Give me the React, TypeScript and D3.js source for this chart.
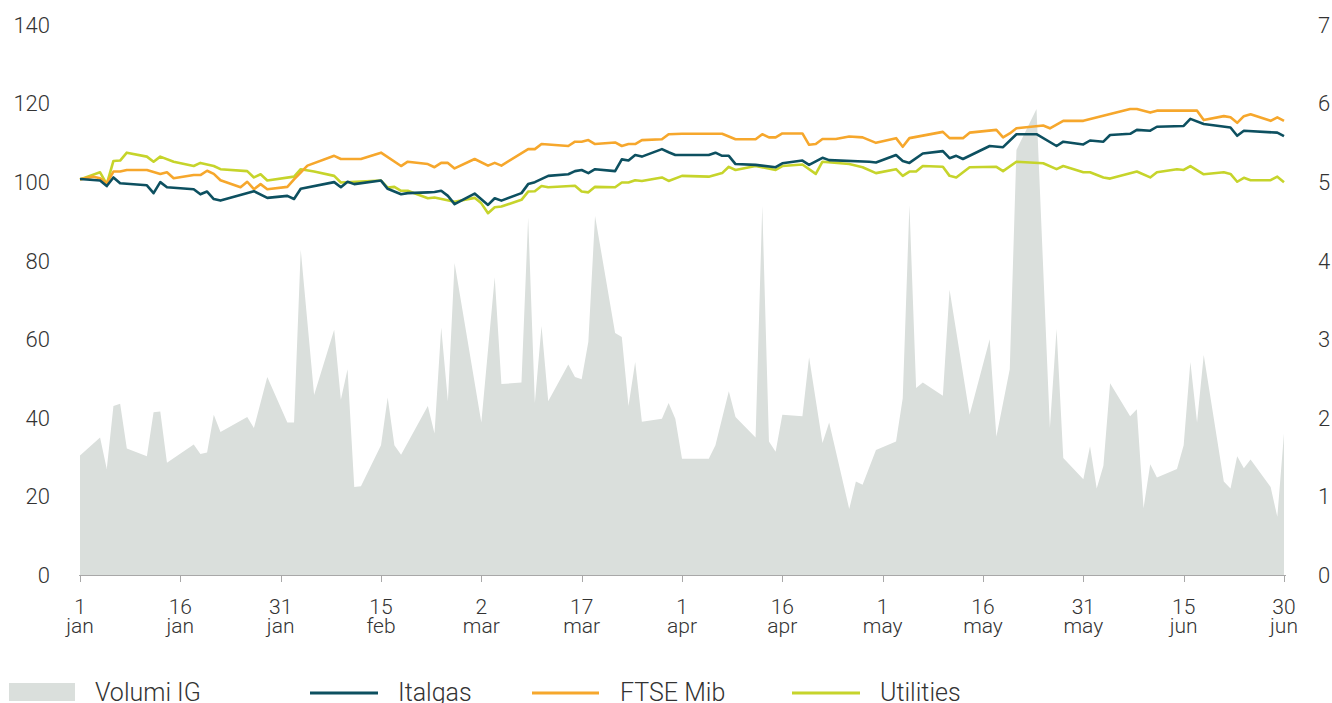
import React, { useEffect, useRef } from 'react';
import * as d3 from 'd3';

// days are counted from 1 jan; lines are rebased to 100, volumes in millions (right axis)
const volumeDays = [0, 3, 4, 5, 6, 7, 10, 11, 12, 13, 17, 18, 19, 20, 21, 25, 26, 28, 31, 32, 33, 35, 38, 39, 40, 41, 42, 45, 46, 47, 48, 52, 53, 54, 55, 56, 60, 62, 63, 66, 67, 68, 69, 70, 73, 74, 75, 76, 77, 80, 81, 82, 83, 84, 87, 88, 89, 90, 94, 95, 97, 98, 101, 102, 103, 104, 105, 108, 109, 111, 112, 115, 116, 117, 119, 122, 123, 124, 125, 126, 129, 130, 133, 136, 137, 139, 140, 143, 145, 146, 147, 150, 151, 152, 153, 154, 157, 158, 159, 160, 161, 164, 165, 166, 167, 168, 171, 172, 173, 174, 175, 178, 179, 180];
const volumeValues = [1.52, 1.75, 1.35, 2.15, 2.18, 1.61, 1.51, 2.07, 2.08, 1.43, 1.66, 1.54, 1.56, 2.04, 1.82, 2.01, 1.87, 2.52, 1.94, 1.94, 4.14, 2.29, 3.12, 2.23, 2.62, 1.12, 1.13, 1.65, 2.26, 1.65, 1.53, 2.15, 1.8, 3.15, 2.21, 3.97, 1.94, 3.79, 2.43, 2.45, 4.55, 2.19, 3.17, 2.21, 2.68, 2.52, 2.49, 2.97, 4.57, 3.08, 3.03, 2.15, 2.71, 1.95, 1.99, 2.19, 1.99, 1.48, 1.48, 1.65, 2.34, 2.01, 1.75, 4.7, 1.7, 1.57, 2.04, 2.02, 2.77, 1.68, 1.94, 0.84, 1.19, 1.15, 1.59, 1.7, 2.25, 4.71, 2.38, 2.45, 2.28, 3.63, 2.04, 3.0, 1.76, 2.62, 5.41, 5.93, 1.87, 3.13, 1.49, 1.22, 1.64, 1.1, 1.39, 2.44, 2.02, 2.11, 0.85, 1.41, 1.24, 1.35, 1.65, 2.71, 1.94, 2.8, 1.19, 1.1, 1.51, 1.36, 1.47, 1.12, 0.74, 1.8];

const italgasDays = [0, 3, 4, 5, 6, 10, 11, 12, 13, 17, 18, 19, 20, 21, 26, 28, 31, 32, 33, 38, 39, 40, 41, 45, 46, 48, 49, 52, 53, 54, 55, 56, 59, 61, 62, 63, 66, 67, 68, 70, 73, 74, 75, 76, 77, 80, 81, 82, 83, 84, 87, 88, 89, 94, 95, 96, 97, 98, 101, 104, 105, 108, 109, 111, 112, 118, 119, 122, 123, 124, 126, 129, 130, 131, 132, 136, 138, 140, 143, 146, 147, 150, 151, 153, 154, 157, 158, 160, 161, 165, 166, 168, 172, 173, 174, 179, 180];
const italgasValues = [100.8, 100.4, 99.0, 101.2, 99.7, 99.2, 97.2, 100.0, 98.7, 98.2, 96.9, 97.6, 95.7, 95.3, 97.7, 96.0, 96.5, 95.7, 98.3, 100.0, 98.7, 100.1, 99.5, 100.4, 98.3, 96.9, 97.2, 97.4, 97.5, 97.8, 96.5, 94.4, 97.1, 94.2, 95.9, 95.3, 97.2, 99.5, 100.0, 101.6, 102.0, 102.8, 103.1, 102.3, 103.3, 102.8, 105.8, 105.5, 106.9, 106.5, 108.4, 107.6, 106.9, 106.9, 107.5, 106.7, 106.7, 104.6, 104.4, 103.8, 104.8, 105.5, 104.4, 106.2, 105.6, 105.2, 105.0, 106.9, 105.4, 104.9, 107.3, 107.9, 106.1, 106.7, 105.9, 109.2, 108.9, 112.2, 112.2, 109.2, 110.3, 109.6, 110.6, 110.3, 112.0, 112.3, 113.3, 113.1, 114.1, 114.3, 116.1, 114.8, 113.9, 111.8, 113.1, 112.6, 111.7];

const ftseDays = [0, 2, 3, 4, 5, 6, 7, 10, 12, 13, 14, 17, 18, 19, 20, 21, 24, 25, 26, 27, 28, 31, 32, 34, 38, 39, 42, 45, 48, 49, 52, 53, 54, 55, 56, 59, 61, 62, 63, 67, 68, 69, 73, 74, 75, 76, 77, 80, 81, 82, 83, 84, 87, 88, 90, 96, 98, 101, 102, 103, 104, 105, 108, 109, 110, 111, 113, 115, 117, 119, 122, 123, 124, 129, 130, 132, 133, 137, 138, 139, 140, 144, 145, 147, 150, 157, 158, 160, 161, 167, 168, 171, 172, 173, 174, 175, 178, 179, 180];
const ftseValues = [100.7, 101.4, 101.0, 99.7, 102.7, 102.7, 103.1, 103.1, 102.1, 102.5, 101.0, 101.8, 101.8, 102.9, 102.1, 100.5, 98.7, 100.1, 98.2, 99.5, 98.2, 98.8, 100.7, 104.2, 106.7, 105.9, 105.9, 107.5, 104.1, 105.2, 104.6, 103.8, 104.9, 104.9, 103.5, 105.9, 104.2, 104.9, 104.2, 108.4, 108.4, 109.7, 109.2, 110.3, 110.3, 110.7, 109.7, 110.1, 109.2, 109.7, 109.7, 110.7, 110.9, 112.2, 112.3, 112.3, 110.9, 110.9, 112.2, 111.4, 111.4, 112.4, 112.4, 109.5, 109.7, 111.0, 111.0, 111.6, 111.4, 110.0, 111.2, 109.0, 111.2, 112.8, 111.2, 111.2, 112.6, 113.3, 111.4, 112.4, 113.7, 114.4, 113.7, 115.6, 115.6, 118.6, 118.6, 117.7, 118.2, 118.2, 115.8, 116.8, 116.5, 115.1, 116.8, 117.3, 115.6, 116.5, 115.6];

const utilitiesDays = [0, 3, 4, 5, 6, 7, 10, 11, 12, 14, 17, 18, 20, 21, 25, 26, 27, 28, 32, 33, 35, 38, 39, 45, 46, 47, 48, 49, 52, 53, 56, 59, 60, 61, 62, 63, 66, 67, 68, 69, 70, 74, 75, 76, 77, 80, 81, 82, 83, 84, 87, 88, 90, 94, 96, 97, 98, 101, 104, 105, 108, 110, 111, 115, 117, 119, 122, 123, 124, 125, 126, 129, 130, 131, 133, 137, 138, 140, 144, 146, 147, 150, 151, 153, 154, 158, 160, 161, 164, 165, 166, 168, 171, 172, 173, 174, 175, 178, 179, 180];
const utilitiesValues = [100.7, 102.5, 99.5, 105.4, 105.5, 107.5, 106.5, 105.2, 106.5, 105.2, 104.1, 104.9, 104.1, 103.3, 102.8, 101.2, 102.0, 100.4, 101.4, 103.3, 102.7, 101.6, 99.9, 100.4, 98.6, 98.8, 97.8, 97.8, 95.9, 96.1, 95.0, 96.0, 94.6, 92.1, 93.6, 93.8, 95.5, 97.6, 97.7, 99.0, 98.7, 99.1, 97.6, 97.4, 98.8, 98.7, 99.9, 99.9, 100.5, 100.3, 101.2, 100.3, 101.6, 101.4, 102.3, 103.9, 103.1, 104.1, 103.1, 104.1, 104.5, 102.1, 105.2, 104.6, 103.8, 102.3, 103.3, 101.6, 102.7, 102.7, 104.1, 103.9, 101.6, 101.2, 103.8, 103.9, 102.8, 105.2, 104.8, 103.3, 104.1, 102.5, 102.5, 101.2, 100.9, 102.7, 101.2, 102.5, 103.3, 103.1, 104.1, 102.0, 102.5, 102.1, 100.1, 101.1, 100.5, 100.5, 101.4, 100.0];

const tickDays = [0, 15, 30, 45, 60, 75, 90, 105, 120, 135, 150, 165, 180];
const tickDayLabels = ['1', '16', '31', '15', '2', '17', '1', '16', '1', '16', '31', '15', '30'];
const tickMonthLabels = ['jan', 'jan', 'jan', 'feb', 'mar', 'mar', 'apr', 'apr', 'may', 'may', 'may', 'jun', 'jun'];
const leftTicks = [0, 20, 40, 60, 80, 100, 120, 140];
const rightTicks = [0, 1, 2, 3, 4, 5, 6, 7];

const legendNames = ['Volumi IG', 'Italgas', 'FTSE Mib', 'Utilities'];

const colors = {
    volume: '#dadfdc',
    italgas: '#0d5060',
    ftse: '#f6a72c',
    utilities: '#c6d42b',
    text: '#333333',
    axis: '#a8a8a8',
};

const W = 1332, H = 703;

function zip(days: number[], values: number[]) {
    return days.map((d, i) => ({ day: d, value: values[i] }));
}

export default function App() {
    const ref = useRef<SVGSVGElement>(null);

    useEffect(() => {
        const svg = d3.select(ref.current);
        svg.selectAll('*').remove();

        const margin = { top: 25, right: 48, bottom: 128, left: 80 };

        const x = d3.scaleLinear()
            .domain([0, 180])
            .range([margin.left, W - margin.right]);
        const yLeft = d3.scaleLinear()
            .domain([0, 140])
            .range([H - margin.bottom, margin.top]);
        const yRight = d3.scaleLinear()
            .domain([0, 7])
            .range([H - margin.bottom, margin.top]);

        const font = 'Roboto, sans-serif';

        // volume area (right axis)
        const area = d3.area<{ day: number, value: number }>()
            .x((d) => x(d.day))
            .y0(yRight(0))
            .y1((d) => yRight(d.value));

        svg.append('path')
            .datum(zip(volumeDays, volumeValues))
            .attr('d', area)
            .attr('fill', colors.volume);

        // x axis line + ticks
        const axisY = yLeft(0);
        svg.append('line')
            .attr('x1', x(0) - 1)
            .attr('x2', x(180) + 2)
            .attr('y1', axisY + 0.5)
            .attr('y2', axisY + 0.5)
            .attr('stroke', colors.axis)
            .attr('stroke-width', 1);

        const ticks = svg.append('g');
        tickDays.forEach((d, i) => {
            const tx = Math.round(x(d)) + 0.5;
            ticks.append('line')
                .attr('x1', tx).attr('x2', tx)
                .attr('y1', axisY).attr('y2', axisY + 7)
                .attr('stroke', colors.axis);
            const t = ticks.append('text')
                .attr('x', x(d))
                .attr('text-anchor', 'middle')
                .attr('fill', colors.text)
                .style('font-family', font)
                .style('font-weight', 300)
                .style('font-size', '21px');
            t.append('tspan').attr('x', x(d)).attr('y', 614).text(tickDayLabels[i]);
            t.append('tspan').attr('x', x(d)).attr('y', 633).text(tickMonthLabels[i]);
        });

        // y labels, no axis lines
        leftTicks.forEach((v) => {
            svg.append('text')
                .attr('x', 50)
                .attr('y', yLeft(v))
                .attr('dy', '0.36em')
                .attr('text-anchor', 'end')
                .attr('fill', colors.text)
                .style('font-family', font)
                .style('font-weight', 300)
                .style('font-size', '22px')
                .text(v);
        });
        rightTicks.forEach((v) => {
            svg.append('text')
                .attr('x', 1318)
                .attr('y', yRight(v))
                .attr('dy', '0.36em')
                .attr('text-anchor', 'start')
                .attr('fill', colors.text)
                .style('font-family', font)
                .style('font-weight', 300)
                .style('font-size', '22px')
                .text(v);
        });

        // lines (left axis)
        const line = d3.line<{ day: number, value: number }>()
            .x((d) => x(d.day))
            .y((d) => yLeft(d.value));

        const series = [
            { data: zip(utilitiesDays, utilitiesValues), color: colors.utilities },
            { data: zip(ftseDays, ftseValues), color: colors.ftse },
            { data: zip(italgasDays, italgasValues), color: colors.italgas },
        ];
        series.forEach((s) => {
            svg.append('path')
                .datum(s.data)
                .attr('d', line)
                .attr('fill', 'none')
                .attr('stroke', s.color)
                .attr('stroke-width', 2.6)
                .attr('stroke-linejoin', 'round');
        });

        // legend
        const legY = 693;
        const legend = svg.append('g');
        legend.append('rect')
            .attr('x', 9).attr('y', 683)
            .attr('width', 66).attr('height', 18)
            .attr('fill', colors.volume);

        const legLines = [
            { x1: 310, x2: 378, color: colors.italgas },
            { x1: 532, x2: 599, color: colors.ftse },
            { x1: 792, x2: 860, color: colors.utilities },
        ];
        legLines.forEach((l) => {
            legend.append('line')
                .attr('x1', l.x1).attr('x2', l.x2)
                .attr('y1', legY).attr('y2', legY)
                .attr('stroke', l.color)
                .attr('stroke-width', 3);
        });

        const legTextX = [95, 398, 620, 880];
        legendNames.forEach((name, i) => {
            legend.append('text')
                .attr('x', legTextX[i])
                .attr('y', 701)
                .attr('fill', colors.text)
                .style('font-family', font)
                .style('font-weight', 300)
                .style('font-size', '25px')
                .text(name);
        });
    }, []);

    return (
        <svg
            ref={ref}
            width={W}
            height={H}
            style={{ position: 'absolute', left: 0, top: 0, display: 'block', background: '#fff' }}
        />
    );
}
